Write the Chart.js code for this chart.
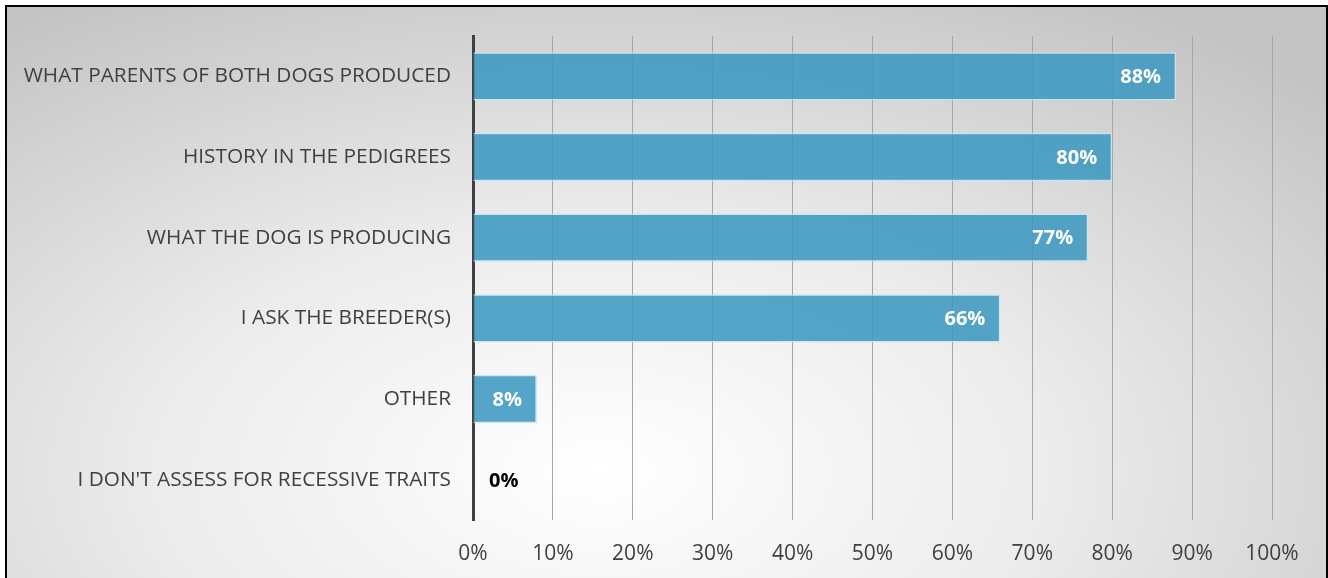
<!DOCTYPE html>
<html>
<head>
<meta charset="utf-8">
<script src="https://cdn.jsdelivr.net/npm/chart.js@4/dist/chart.umd.min.js"></script>
<style>
  html, body { margin: 0; padding: 0; background: #fff; }
  #wrap {
    position: absolute; left: 5px; top: 5px; width: 1319px; height: 580px;
    border: 2px solid #000; border-bottom: none;
    background: radial-gradient(ellipse 75% 95% at 45% 80%, #ffffff 0%, #ececec 45%, #c4c4c4 100%);
  }
  canvas { display: block; }
</style>
</head>
<body>
<div id="wrap"><canvas id="chart" width="1319" height="571"></canvas></div>
<script>
// survey answers, top to bottom
const categories = [
  'WHAT PARENTS OF BOTH DOGS PRODUCED',
  'HISTORY IN THE PEDIGREES',
  'WHAT THE DOG IS PRODUCING',
  'I ASK THE BREEDER(S)',
  'OTHER',
  "I DON'T ASSESS FOR RECESSIVE TRAITS"
];
const percents = [88, 80, 77, 66, 8, 0];
const xTicks = [0, 10, 20, 30, 40, 50, 60, 70, 80, 90, 100];

const FONT = '"Open Sans", sans-serif';

// value labels at the inside end of each bar
const barLabels = {
  id: 'barLabels',
  afterDatasetsDraw(chart) {
    const ctx = chart.ctx;
    const meta = chart.getDatasetMeta(0);
    ctx.save();
    ctx.font = 'bold 20px ' + FONT;
    ctx.textBaseline = 'middle';
    meta.data.forEach((bar, i) => {
      const v = percents[i];
      const txt = v + '%';
      if (v === 0) {
        ctx.fillStyle = '#000';
        ctx.textAlign = 'left';
        ctx.fillText(txt, bar.base + 16, bar.y + 2);
      } else {
        ctx.fillStyle = '#fff';
        ctx.textAlign = 'right';
        ctx.fillText(txt, bar.x - 15, bar.y + 1);
      }
    });
    ctx.restore();
  }
};

new Chart(document.getElementById('chart'), {
  type: 'bar',
  data: {
    labels: categories,
    datasets: [{
      data: percents,
      backgroundColor: 'rgba(60, 152, 192, 0.88)',
      borderColor: 'rgba(200, 228, 240, 0.9)',
      borderWidth: 1.5,
      categoryPercentage: 1,
      barPercentage: 0.6
    }]
  },
  options: {
    indexAxis: 'y',
    responsive: false,
    animation: false,
    layout: { padding: { top: 29, right: 54, left: 0, bottom: 0 } },
    plugins: { legend: { display: false }, tooltip: { enabled: false } },
    scales: {
      x: {
        min: 0, max: 100,
        afterBuildTicks(axis) { axis.ticks = xTicks.map(v => ({ value: v })); },
        afterFit(axis) { axis.height = 58; axis.paddingLeft = 0; axis.paddingRight = 0; },
        grid: {
          color: ctx => ctx.index === 0 ? 'rgba(0,0,0,0)' : '#a6a6a6',
          lineWidth: 1,
          drawTicks: false
        },
        border: { display: false },
        ticks: {
          padding: 21,
          color: '#404040',
          font: { family: FONT, size: 21 },
          callback: v => v + '%'
        }
      },
      y: {
        afterFit(axis) { axis.width = 466; axis.paddingTop = 0; axis.paddingBottom = 0; },
        grid: { display: false, drawTicks: false },
        border: { display: true, color: '#404040', width: 3 },
        ticks: {
          padding: 22,
          color: '#404040',
          font: { family: FONT, size: 20.8 }
        }
      }
    }
  },
  plugins: [barLabels]
});
</script>
</body>
</html>
